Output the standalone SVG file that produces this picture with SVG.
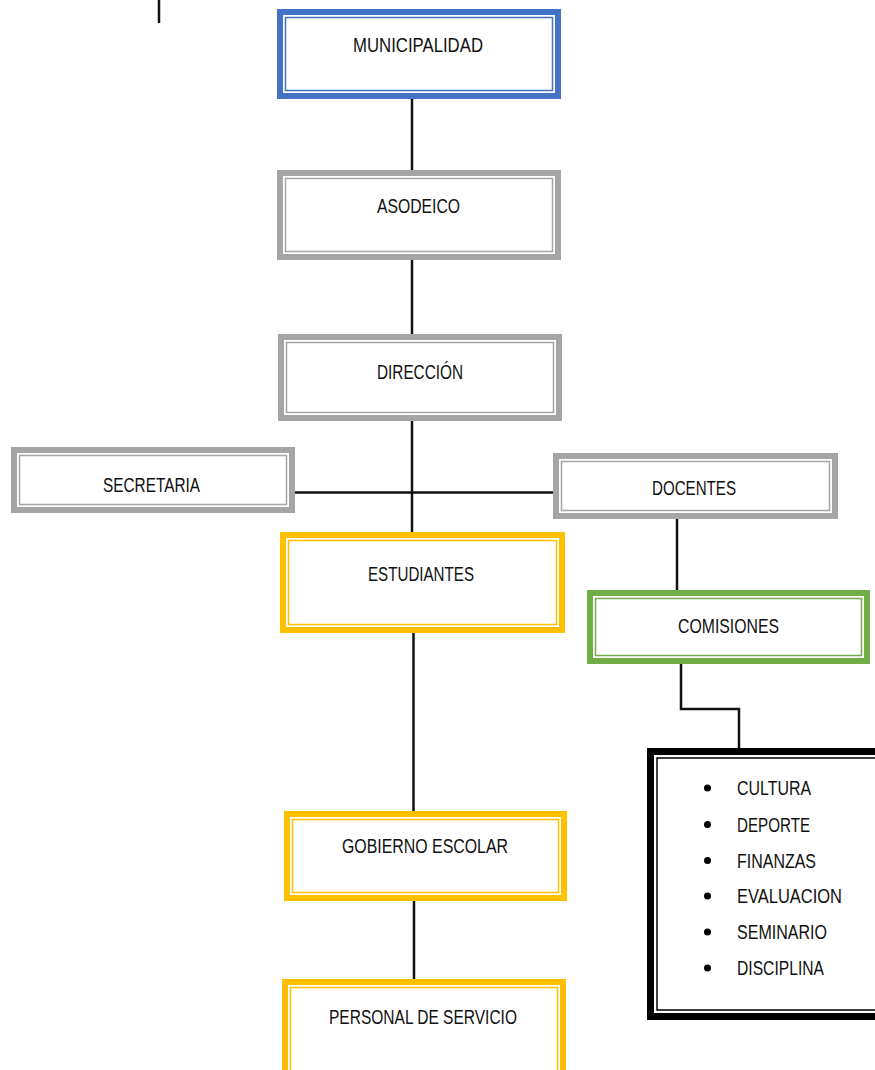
<svg xmlns="http://www.w3.org/2000/svg" width="875" height="1070" viewBox="0 0 875 1070">
<style>
.o{fill:#fff;stroke-width:6}
.i{fill:none;stroke-width:1.5}
.blue{stroke:#4472C4}
.gray{stroke:#A5A5A5}
.gold{stroke:#FFC000}
.green{stroke:#70AD47}
.blk{stroke:#000}
.t{font-family:"Liberation Sans",Arial,sans-serif;font-size:20px;fill:#111}
.c{stroke:#111;stroke-width:2.5;fill:none}
</style>
<rect width="875" height="1070" fill="#fff"/>
<line x1="159" y1="0" x2="159" y2="23" stroke="#111" stroke-width="2.5"/>
<g id="connectors">
<line class="c" x1="412" y1="99" x2="412" y2="170"/>
<line class="c" x1="412" y1="260" x2="412" y2="334"/>
<line class="c" x1="412" y1="421" x2="412" y2="532"/>
<line class="c" x1="295" y1="492.5" x2="553" y2="492.5"/>
<line class="c" x1="677" y1="519" x2="677" y2="590"/>
<path class="c" d="M681,664 V709 H739 V748"/>
<line class="c" x1="413.5" y1="633" x2="413.5" y2="811"/>
<line class="c" x1="414" y1="901" x2="414" y2="979"/>
</g>
<g id="municipalidad">
<rect class="o blue" x="280" y="12" width="278" height="84"/>
<rect class="i blue" x="285.5" y="17.5" width="267" height="73"/>
<text class="t" x="353" y="52" textLength="130" lengthAdjust="spacingAndGlyphs">MUNICIPALIDAD</text>
</g>
<g id="asodeico">
<rect class="o gray" x="280" y="173" width="278" height="84"/>
<rect class="i gray" x="285.5" y="178.5" width="267" height="73"/>
<text class="t" x="377" y="213" textLength="83" lengthAdjust="spacingAndGlyphs">ASODEICO</text>
</g>
<g id="direccion">
<rect class="o gray" x="281" y="337" width="278" height="81"/>
<rect class="i gray" x="286.5" y="342.5" width="267" height="70"/>
<text class="t" x="377" y="379" textLength="86" lengthAdjust="spacingAndGlyphs">DIRECCIÓN</text>
</g>
<g id="secretaria">
<rect class="o gray" x="14" y="450" width="278" height="60"/>
<rect class="i gray" x="19.5" y="455.5" width="267" height="49"/>
<text class="t" x="103" y="492" textLength="97" lengthAdjust="spacingAndGlyphs">SECRETARIA</text>
</g>
<g id="docentes">
<rect class="o gray" x="556" y="456" width="279" height="60"/>
<rect class="i gray" x="561.5" y="461.5" width="268" height="49"/>
<text class="t" x="652" y="495" textLength="84" lengthAdjust="spacingAndGlyphs">DOCENTES</text>
</g>
<g id="estudiantes">
<rect class="o gold" x="283" y="535" width="279" height="95"/>
<rect class="i gold" x="288.5" y="540.5" width="268" height="84"/>
<text class="t" x="368" y="581" textLength="106" lengthAdjust="spacingAndGlyphs">ESTUDIANTES</text>
</g>
<g id="comisiones">
<rect class="o green" x="590" y="593" width="277" height="68"/>
<rect class="i green" x="595.5" y="598.5" width="266" height="57"/>
<text class="t" x="678" y="633" textLength="101" lengthAdjust="spacingAndGlyphs">COMISIONES</text>
</g>
<g id="gobierno-escolar">
<rect class="o gold" x="287" y="814" width="277" height="84"/>
<rect class="i gold" x="292.5" y="819.5" width="266" height="73"/>
<text class="t" x="342" y="853" textLength="166" lengthAdjust="spacingAndGlyphs">GOBIERNO  ESCOLAR</text>
</g>
<g id="personal-de-servicio">
<rect class="o gold" x="285" y="982" width="278" height="100"/>
<rect class="i gold" x="290.5" y="987.5" width="267" height="100"/>
<text class="t" x="329" y="1024" textLength="188" lengthAdjust="spacingAndGlyphs">PERSONAL DE SERVICIO</text>
</g>
<g id="lista-comisiones">
<rect fill="#fff" stroke="#000" stroke-width="7" x="650.5" y="751.5" width="240" height="265"/>
<rect class="i blk" x="657" y="758" width="230" height="252"/>
<g fill="#000">
<circle cx="707.5" cy="788" r="3.5"/>
<circle cx="707.5" cy="824.5" r="3.5"/>
<circle cx="707.5" cy="860.5" r="3.5"/>
<circle cx="707.5" cy="896" r="3.5"/>
<circle cx="707.5" cy="932" r="3.5"/>
<circle cx="707.5" cy="968" r="3.5"/>
</g>
<text class="t" x="737" y="795" textLength="74" lengthAdjust="spacingAndGlyphs">CULTURA</text>
<text class="t" x="737" y="831.5" textLength="73" lengthAdjust="spacingAndGlyphs">DEPORTE</text>
<text class="t" x="737" y="867.5" textLength="79" lengthAdjust="spacingAndGlyphs">FINANZAS</text>
<text class="t" x="737" y="903" textLength="105" lengthAdjust="spacingAndGlyphs">EVALUACION</text>
<text class="t" x="737" y="939" textLength="90" lengthAdjust="spacingAndGlyphs">SEMINARIO</text>
<text class="t" x="737" y="975" textLength="87" lengthAdjust="spacingAndGlyphs">DISCIPLINA</text>
</g>
</svg>
